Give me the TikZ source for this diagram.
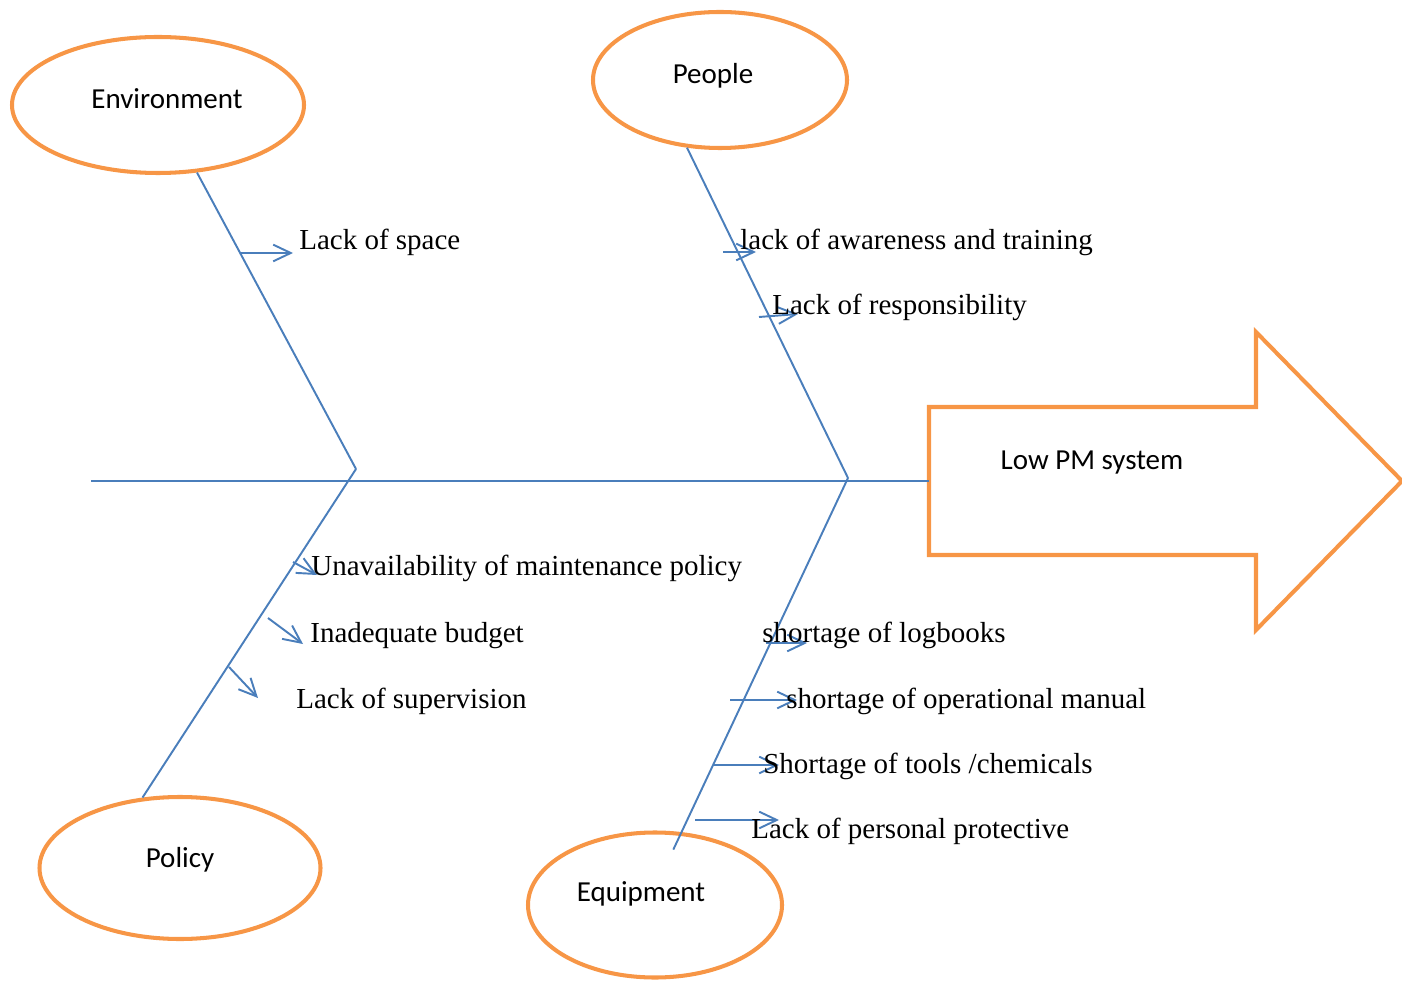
\documentclass[tikz,border=0pt]{standalone}
\usepackage{fontspec}
\setmainfont{Liberation Serif}
\newfontfamily\capsfont{Carlito}
\usetikzlibrary{arrows.meta,shapes.geometric}
\definecolor{boneBlue}{HTML}{4A7EBB}
\definecolor{headOrange}{HTML}{F79646}

\begin{document}
\begin{tikzpicture}[x=0.02cm,y=-0.02cm,
    cause/.style={ellipse,draw=headOrange,line width=2.3pt,inner sep=0pt},
    ctext/.style={inner sep=0pt,font=\capsfont\fontsize{16.5}{20}\selectfont},
    bone/.style={boneBlue,line width=1.1pt},
    sub/.style={bone,-{Straight Barb[length=10pt,width=9.5pt]}},
    reason/.style={anchor=base west,inner sep=0pt,
                   font=\fontsize{16.5}{20}\selectfont}
  ]
  \def\u{0.02cm}
  \useasboundingbox (0,0) rectangle (1402,982);
  %% Cause categories
  \node[cause,minimum width=292*\u,minimum height=136*\u,
        label={[ctext,xshift=9*\u,yshift=6*\u]center:Environment}] (env) at (158,105) {};
  \node[cause,minimum width=254*\u,minimum height=136*\u,
        label={[ctext,xshift=-7*\u,yshift=4*\u]center:People}] (ppl) at (720,80) {};
  \node[cause,minimum width=281*\u,minimum height=142*\u,
        label={[ctext,yshift=8*\u]center:Policy}] (pol) at (180,868) {};
  \node[cause,minimum width=254*\u,minimum height=145*\u,
        label={[ctext,xshift=-14*\u,yshift=11*\u]center:Equipment}] (equ) at (655,905) {};
  %% Effect arrow
  \draw[headOrange,line width=2.3pt] (929,407) -- (1256,407) -- (1256,332) -- (1402,481)
        -- (1256,630) -- (1256,555) -- (929,555) -- cycle;
  \node[ctext] (eff) at (1092,463) {Low PM system};
  %% Spine and bones
  \coordinate (tail) at (91,481);
  \coordinate (head) at (929,481);
  \coordinate (j1) at (356,469);
  \coordinate (j2) at (848,478);
  \draw[bone] (tail) -- (head);
  \draw[bone] (env.-60) -- (j1);
  \draw[bone] (pol.118) -- (j1);
  \draw[bone] (ppl.-116) -- (j2);
  \draw[bone,shorten <=-11pt] (equ.70) -- (j2);
  %% Environment
  \coordinate (s1) at (240,253);  \coordinate (t1) at (293,253);
  \draw[sub] (s1) -- (t1);
  \node[reason] (space) at (299,250) {Lack of space};
  %% People
  \coordinate (s2) at (723,252);  \coordinate (t2) at (756,252);
  \coordinate (s3) at (759,317);  \coordinate (t3) at (798,314);
  \draw[sub] (s2) -- (t2);
  \draw[sub] (s3) -- (t3);
  \node[reason] (aware) at (740,250) {lack of awareness and training};
  \node[reason] (resp)  at (772,315) {Lack of responsibility};
  %% Policy
  \coordinate (s4) at (293,562);  \coordinate (t4) at (317,575);
  \coordinate (s5) at (268,618);  \coordinate (t5) at (303,644);
  \coordinate (s6) at (229,667);  \coordinate (t6) at (258,698);
  \draw[sub] (s4) -- (t4);
  \draw[sub] (s5) -- (t5);
  \draw[sub] (s6) -- (t6);
  \node[reason] (unav)   at (311,576) {Unavailability of maintenance policy};
  \node[reason] (budget) at (310,642) {Inadequate budget};
  \node[reason] (superv) at (296,708) {Lack of supervision};
  %% Equipment
  \coordinate (s7)  at (766,643); \coordinate (t7)  at (807,643);
  \coordinate (s8)  at (730,700); \coordinate (t8)  at (797,700);
  \coordinate (s9)  at (713,765); \coordinate (t9)  at (779,765);
  \coordinate (s10) at (695,820); \coordinate (t10) at (779,820);
  \draw[sub] (s7) -- (t7);
  \draw[sub] (s8) -- (t8);
  \draw[sub] (s9) -- (t9);
  \draw[sub] (s10) -- (t10);
  \node[reason] (logb)  at (762,642) {shortage of logbooks};
  \node[reason] (manual) at (786,708) {shortage of operational manual};
  \node[reason] (tools) at (763,773) {Shortage of tools /chemicals};
  \node[reason] (ppe)   at (751,838) {Lack of personal protective};
\end{tikzpicture}
\end{document}
